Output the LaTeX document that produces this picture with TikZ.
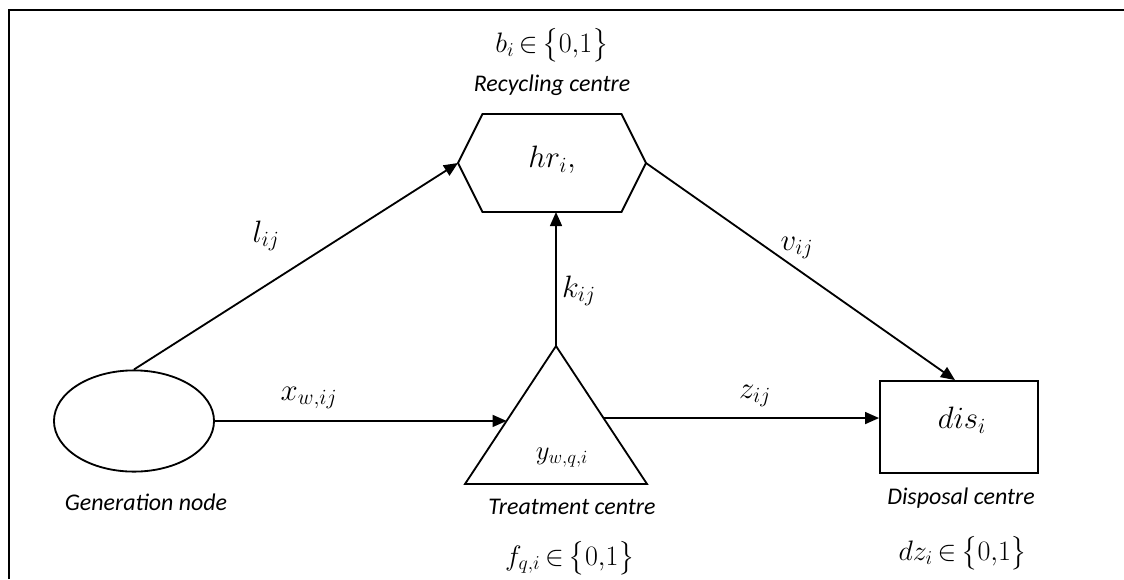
\RequirePackage{fix-cm}
\documentclass[tikz,border=0pt]{standalone}
\usepackage{amsmath,amssymb}
\usepackage{fontspec}
\setsansfont{Carlito}
\usetikzlibrary{arrows.meta, positioning, shapes.geometric, calc}

\begin{document}
\begin{tikzpicture}[
    x=0.025cm, y=-0.025cm,
    line width=1.3pt,
    flowarr/.style={-{Triangle[length=10pt, width=8.5pt]}},
    caption/.style={font=\sffamily\itshape\fontsize{17}{19}\selectfont, inner sep=0pt},
    varlabel/.style={font=\fontsize{22}{24}\selectfont, inner sep=0pt},
    setlabel/.style={font=\fontsize{20}{22}\selectfont, inner sep=0pt},
    arclabel/.style={font=\fontsize{22}{24}\selectfont, inner sep=0pt}
]
    \useasboundingbox (0,0) rectangle (1124,579);

    % Frame
    \draw[line width=1.6pt] (9,579) -- (9,10) -- (1124,10);

    % Generation node
    \node[draw, ellipse, minimum width=4cm, minimum height=2.53cm] (gen) at (134,421) {};
    \node[caption] (gen-lbl) at (146,502) {Generation node};

    % Recycling centre
    \coordinate (rec) at (552,163);
    \draw (rec) ++(-94,0) coordinate (rec-w) -- ++(24.5,-49) -- ++(139,0)
        -- ++(24.5,49) coordinate (rec-e) -- ++(-24.5,49) -- ++(-139,0) -- cycle;
    \coordinate (rec-s) at (556,212);
    \node[varlabel] (rec-var) at (552,160) {$hr_i,$};
    \node[caption] (rec-lbl) at (552,85) {Recycling centre};
    \node[setlabel] (rec-set) at (552,45) {$b_i\,{\in}\,\bigl\{0{,}1\bigr\}$};

    % Treatment centre
    \draw (556,346) coordinate (tri-top) -- (647,484) coordinate (tri-br)
        -- (465,484) coordinate (tri-bl) -- cycle;
    \coordinate (tri-l) at ($(tri-top)!0.543!(tri-bl)$);
    \coordinate (tri-r) at ($(tri-top)!0.522!(tri-br)$);
    \node[font=\fontsize{19}{21}\selectfont, inner sep=0pt] (tri-var) at (562,458) {$y_{w,q,i}$};
    \node[caption] (tri-lbl) at (572,507) {Treatment centre};
    \node[setlabel] (tri-set) at (570,558) {$f_{q,i}\,{\in}\,\bigl\{0{,}1\bigr\}$};

    % Disposal centre
    \node[draw, minimum width=3.95cm, minimum height=2.3cm] (dis) at (959,427) {};
    \node[varlabel] (dis-var) at (962,420) {$dis_i$};
    \node[caption] (dis-lbl) at (961,498) {Disposal centre};
    \node[setlabel] (dis-set) at (963,553) {$dz_i\,{\in}\,\bigl\{0{,}1\bigr\}$};

    % Flows
    \draw[flowarr] (gen.north) -- (rec-w);
    \draw[flowarr] (gen.east) -- (tri-l);
    \draw[flowarr] (tri-top) -- (rec-s);
    \draw[flowarr] (tri-r) -- (dis.west |- tri-r);
    \draw[flowarr] (rec-e) -- ($(dis.north)+(-4,0)$);

    \node[arclabel] (l-lbl) at (266,236) {$l_{ij}$};
    \node[arclabel] (x-lbl) at (309,398) {$x_{w,ij}$};
    \node[arclabel] (k-lbl) at (579,291) {$k_{ij}$};
    \node[arclabel] (z-lbl) at (755,396) {$z_{ij}$};
    \node[arclabel] (v-lbl) at (797,248) {$v_{ij}$};
\end{tikzpicture}
\end{document}
